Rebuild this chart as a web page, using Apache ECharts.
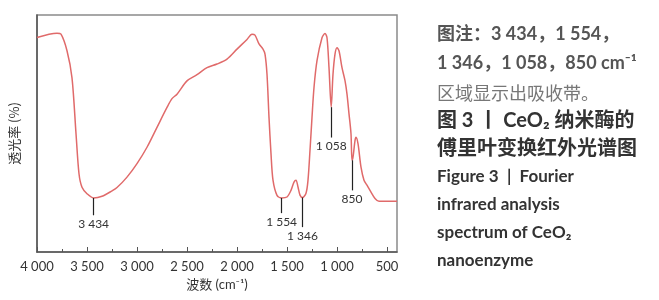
<!DOCTYPE html>
<html>
<head>
<meta charset="utf-8">
<script src="https://cdn.jsdelivr.net/npm/echarts@6/dist/echarts.min.js"></script>
<style>
html,body{margin:0;padding:0;background:#fff;}
#c{width:659px;height:300px;}
</style>
</head>
<body>
<div id="c"></div>
<script>
// Wavenumber (cm-1) and transmittance (% of plot height, arbitrary)
var wavenumbers = [4000,3800,3760,3700,3650,3610,3580,3550,3500,3434,3350,3250,3200,3100,3000,2900,2800,2700,2650,2600,2500,2400,2300,2200,2100,2000,1900,1850,1820,1780,1740,1720,1700,1680,1660,1640,1600,1554,1500,1460,1430,1410,1390,1370,1346,1310,1290,1270,1250,1230,1200,1150,1120,1100,1080,1058,1040,1020,1000,980,950,920,900,880,860,850,840,820,810,790,760,730,700,660,620,580,500,400];
var transmittance = [90.5,92.3,91.9,84.9,73.5,50,33,27.3,24.6,22.8,23.5,25.8,27.2,31.6,37.3,44.2,52.6,61,64.7,66.6,72.2,74.8,77.8,79.3,81.4,85.6,89.7,91.9,91.5,87.8,85.6,83.5,75,56.8,41.5,30.3,23.9,22.8,23.2,26,29.5,30.3,27.4,24,23,24.8,30.3,42.9,56.8,69.4,80.7,90.4,92.2,90.4,77.8,61.1,75,83.5,86.2,84.9,77.8,72.3,66.6,58.3,49.9,38.7,40,47,48.4,45.7,35.8,30.3,28.2,25.3,22.6,21.4,21.4,21.4];

// Peak annotations
var peakX = [3434,1554,1346,1058,850];
var peakTop = [22.8,22.8,23,61.1,38.7];
var peakBottom = [15.5,16.4,10.5,48.3,26];
var peakLabels = ['3 434','1 554','1 346','1 058','850'];

// Tick values and labels
var majorTicks = [4000,3500,3000,2500,2000,1500,1000,500];
var majorTickLabels = ['4 000','3 500','3 000','2 500','2 000','1 500','1 000','500'];
var minorTicks = [3750,3250,2750,2250,1750,1250,750];

var xName = '波数 (cm⁻¹)';
var yName = '透光率 (%)';

var captionLines = [
  {text:'图注：3 434，1 554，', style:'note'},
  {text:'1 346，1 058，850 cm⁻¹', style:'note'},
  {text:'区域显示出吸收带。', style:'light'},
  {text:'图 3 丨 CeO₂ 纳米酶的', style:'bold'},
  {text:'傅里叶变换红外光谱图', style:'bold'},
  {text:'Figure 3  |  Fourier', style:'en'},
  {text:'infrared analysis', style:'en'},
  {text:'spectrum of CeO₂', style:'en'},
  {text:'nanoenzyme', style:'en'}
];

var lineData = wavenumbers.map(function(w,i){return [w, transmittance[i]];});
var markData = peakX.map(function(x,i){
  return [{coord:[x, peakTop[i]]},{coord:[x, peakBottom[i]], label:{formatter: peakLabels[i]}}];
});

var FF = 'Lato, "Noto Sans CJK SC", sans-serif';
var styles = {
  note:{fontSize:18, fontWeight:'bold', fill:'#555', fontFamily:FF},
  light:{fontSize:18, fontWeight:'normal', fill:'#777', fontFamily:FF},
  bold:{fontSize:20, fontWeight:'bold', fill:'#333', fontFamily:FF},
  en:{fontSize:17, fontWeight:'bold', fill:'#333', fontFamily:FF}
};
var captionY = [35,64,95,122,150,178,206,234,262];
var graphics = captionLines.map(function(l,i){
  var s = styles[l.style];
  return {type:'text', left:437, top:captionY[i]-s.fontSize/2-1, style:Object.assign({text:l.text}, s)};
});

var chart = echarts.init(document.getElementById('c'));
chart.setOption({
  animation:false,
  backgroundColor:'#fff',
  grid:{left:36, right:262, top:15, bottom:48, show:true, borderColor:'#8a8a8a', borderWidth:1.5, backgroundColor:'transparent'},
  xAxis:[{
    type:'value', inverse:true, min:400, max:4000,
    name:xName, nameLocation:'middle', nameGap:24,
    nameTextStyle:{fontSize:13, color:'#333', fontFamily:FF},
    axisLine:{show:true, lineStyle:{color:'#555', width:1.5}},
    axisTick:{show:true, inside:true, length:5, customValues:majorTicks, lineStyle:{color:'#555'}},
    axisLabel:{customValues:majorTicks, fontSize:13, color:'#333', margin:8, fontFamily:'Lato, sans-serif',
      formatter:function(v){var i=majorTicks.indexOf(v);return i>=0?majorTickLabels[i]:'';}},
    splitLine:{show:false}
  },{
    type:'value', inverse:true, min:400, max:4000, position:'bottom',
    axisLine:{show:false},
    axisTick:{show:true, inside:true, length:3, customValues:minorTicks, lineStyle:{color:'#555'}},
    axisLabel:{show:false},
    splitLine:{show:false}
  }],
  yAxis:{
    type:'value', min:0, max:100,
    name:yName, nameLocation:'middle', nameGap:16, nameRotate:90,
    nameTextStyle:{fontSize:13, color:'#333', fontFamily:'"Noto Sans CJK SC", sans-serif'},
    axisLine:{show:true, lineStyle:{color:'#555', width:1.5}},
    axisTick:{show:false}, axisLabel:{show:false}, splitLine:{show:false}
  },
  graphic:graphics,
  series:[{
    type:'line', data:lineData, smooth:0.3, showSymbol:false,
    lineStyle:{color:'#e06a6a', width:1.5},
    markLine:{
      silent:true, symbol:['none','none'],
      lineStyle:{color:'#222', width:1.2, type:'solid'},
      label:{position:'end', distance:3, fontSize:12, color:'#333', fontFamily:'Lato, sans-serif'},
      data:markData
    }
  }]
});
</script>
</body>
</html>
